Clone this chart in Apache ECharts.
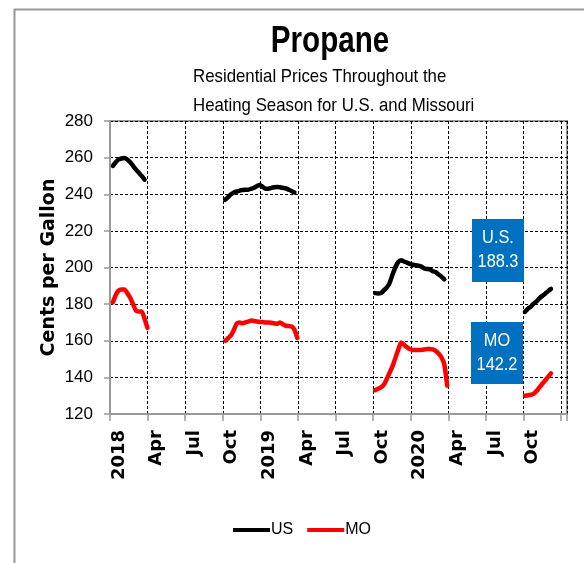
<!DOCTYPE html>
<html>
<head>
<meta charset="UTF-8">
<title>Propane</title>
<script src="https://cdn.jsdelivr.net/npm/echarts@6.0.0/dist/echarts.min.js"></script>
<style>
  html, body { margin: 0; padding: 0; background: #fff; }
  #chart { width: 584px; height: 563px; }
</style>
</head>
<body>
<div id="chart"></div>
<script>
// weekly survey dates, one list per heating season
const weeks2018 = ['2018-01-08', '2018-01-15', '2018-01-22', '2018-01-29', '2018-02-05', '2018-02-12', '2018-02-19',
    '2018-02-26', '2018-03-05', '2018-03-12', '2018-03-19', '2018-03-26', '2018-04-02'];
const weeks2019 = ['2018-10-08', '2018-10-15', '2018-10-22', '2018-10-29', '2018-11-05', '2018-11-12', '2018-11-19',
    '2018-11-26', '2018-12-03', '2018-12-10', '2018-12-17', '2018-12-24', '2018-12-31', '2019-01-07', '2019-01-14',
    '2019-01-21', '2019-01-28', '2019-02-04', '2019-02-11', '2019-02-18', '2019-02-25', '2019-03-04', '2019-03-11',
    '2019-03-18', '2019-03-25', '2019-04-01'];
const weeks2020 = ['2019-10-07', '2019-10-14', '2019-10-21', '2019-10-28', '2019-11-04', '2019-11-11', '2019-11-18',
    '2019-11-25', '2019-12-02', '2019-12-09', '2019-12-16', '2019-12-23', '2019-12-30', '2020-01-06', '2020-01-13',
    '2020-01-20', '2020-01-27', '2020-02-03', '2020-02-10', '2020-02-17', '2020-02-24', '2020-03-02', '2020-03-09',
    '2020-03-16', '2020-03-23', '2020-03-30'];
const weeks2021 = ['2020-10-05', '2020-10-12', '2020-10-19', '2020-10-26', '2020-11-02', '2020-11-09', '2020-11-16',
    '2020-11-23', '2020-11-30', '2020-12-07'];

// cents per gallon
const us2018 = [255.5, 257.5, 259, 259.5, 259.8, 259, 257.5, 255.5, 253.5, 251.8, 250, 248];
const mo2018 = [181, 185, 187.5, 188, 188, 186, 183.5, 180, 176.5, 176, 176, 172, 167];
const us2019 = [237, 238.5, 240, 241, 241.5, 242, 242.3, 242.5, 242.5, 243, 243.5, 244.5, 245, 244, 243, 243,
    243.5, 243.8, 244, 243.8, 243.5, 243.2, 242.5, 241.8, 241];
const mo2019 = [160, 161.5, 163, 166, 169.5, 170, 169.5, 170, 170.5, 171, 170.8, 170.5, 170.3, 170.2, 170, 170,
    169.8, 169.5, 169.2, 170, 169, 168.2, 168, 167.8, 166, 161.5];
const us2020 = [186, 185.8, 186, 187.5, 189, 191.5, 196, 200, 203, 204, 203.3, 202.7, 202, 201.5, 201.3, 201,
    200.5, 199.5, 199.2, 199, 198, 197.5, 196.2, 195, 193.5];
const mo2020 = [133, 133.8, 134.5, 136, 139, 142.5, 146, 150.5, 155, 159, 157.8, 156.5, 155.5, 155, 155, 155,
    155, 155.2, 155.5, 155.5, 155.3, 154.5, 153, 151, 147, 135.5];
const us2021 = [175.8, 177.5, 178.6, 180.3, 181.5, 183.2, 184.5, 185.7, 187.1, 188.3];
const mo2021 = [130, 130.2, 130.5, 131, 132.5, 134.5, 136.5, 138.3, 140.3, 142.2];

const xTickLabels = ['2018', 'Apr', 'Jul', 'Oct', '2019', 'Apr', 'Jul', 'Oct', '2020', 'Apr', 'Jul', 'Oct', ''];

const DAY0 = Date.parse('2018-01-01');
const QUARTER = 1096 / 12;
const dayNum = s => (Date.parse(s) - DAY0) / 86400000;

// glue the seasons into one series, with a break between them
function buildSeries(weekLists, valueLists) {
    const out = [];
    weekLists.forEach((weeks, k) => {
        if (k > 0) out.push([dayNum(weeks[0]) - 3, '-']);
        valueLists[k].forEach((v, i) => out.push([dayNum(weeks[i]), v]));
    });
    return out;
}
const allWeeks = [weeks2018, weeks2019, weeks2020, weeks2021];
const usData = buildSeries(allWeeks, [us2018, us2019, us2020, us2021]);
const moData = buildSeries(allWeeks, [mo2018, mo2019, mo2020, mo2021]);
const usLast = us2021[us2021.length - 1];
const moLast = mo2021[mo2021.length - 1];

const sans = "'Liberation Sans', sans-serif";
const gridLine = { color: '#000', width: 1, type: [3, 2] };

const chart = echarts.init(document.getElementById('chart'));
chart.setOption({
    animation: false,
    grid: { left: 110, right: 17, top: 121, bottom: 149, show: true, borderColor: '#999', borderWidth: 2 },
    xAxis: {
        type: 'value', min: 0, max: 1110, interval: QUARTER,
        axisLine: { show: true, lineStyle: { color: '#999', width: 2 } },
        axisTick: { show: true, length: 7, lineStyle: { color: '#999', width: 1.5 } },
        axisLabel: {
            rotate: 90, margin: 16, color: '#000', fontSize: 18, fontWeight: 'bold',
            fontFamily: 'DejaVu Sans', verticalAlign: 'top',
            formatter: v => xTickLabels[Math.round(v / QUARTER)] || ''
        },
        splitLine: { show: true, lineStyle: gridLine }
    },
    yAxis: {
        type: 'value', min: 120, max: 280, interval: 20,
        name: 'Cents per Gallon', nameLocation: 'middle', nameGap: 51, nameMoveOverlap: false,
        nameTextStyle: { fontSize: 19, fontWeight: 'bold', fontFamily: 'DejaVu Sans', color: '#000' },
        axisLine: { show: true, lineStyle: { color: '#999', width: 2 } },
        axisTick: { show: true, length: 6, lineStyle: { color: '#999', width: 1.5 } },
        axisLabel: { margin: 17, color: '#000', fontSize: 17, fontFamily: sans },
        splitLine: { show: true, lineStyle: gridLine }
    },
    legend: {
        left: 228, top: 517, icon: 'rect', itemWidth: 37, itemHeight: 4, itemGap: 14,
        textStyle: { fontSize: 16, fontFamily: sans, color: '#000', padding: [0, 0, 0, -4] },
        data: ['US', 'MO']
    },
    series: [
        {
            name: 'US', type: 'line', data: usData, showSymbol: false, smooth: 0.2,
            itemStyle: { color: '#000' },
            lineStyle: { color: '#000', width: 4.5, cap: 'round', join: 'round' }
        },
        {
            name: 'MO', type: 'line', data: moData, showSymbol: false, smooth: 0.2,
            itemStyle: { color: '#ff0000' },
            lineStyle: { color: '#ff0000', width: 4.5, cap: 'round', join: 'round' }
        }
    ],
    graphic: [
        { type: 'rect', left: 12, top: 7, shape: { width: 620, height: 620 }, silent: true,
          style: { fill: 'none', stroke: '#999', lineWidth: 2 }, z: -1 },
        { type: 'text', x: 330, y: 42, scaleX: 0.8, style: { text: 'Propane', textAlign: 'center',
          textVerticalAlign: 'middle', font: "bold 37px 'Liberation Sans', sans-serif", fill: '#000' } },
        { type: 'text', x: 193, y: 77, scaleX: 0.885, style: { text: 'Residential Prices Throughout the',
          textVerticalAlign: 'middle', font: "19px 'Liberation Sans', sans-serif", fill: '#000' } },
        { type: 'text', x: 193, y: 106, scaleX: 0.885, style: { text: 'Heating Season for U.S. and Missouri',
          textVerticalAlign: 'middle', font: "19px 'Liberation Sans', sans-serif", fill: '#000' } },
        { type: 'rect', x: 472, y: 219, shape: { width: 52, height: 63 }, style: { fill: '#0070c0' }, z: 10 },
        { type: 'text', x: 498, y: 250, scaleX: 0.86, z: 11, style: { text: 'U.S.\n' + usLast.toFixed(1),
          textAlign: 'center', textVerticalAlign: 'middle', lineHeight: 24, fill: '#fff',
          font: "19px 'Liberation Sans', sans-serif" } },
        { type: 'rect', x: 471, y: 322, shape: { width: 52, height: 62 }, style: { fill: '#0070c0' }, z: 10 },
        { type: 'text', x: 497, y: 353, scaleX: 0.86, z: 11, style: { text: 'MO\n' + moLast.toFixed(1),
          textAlign: 'center', textVerticalAlign: 'middle', lineHeight: 24, fill: '#fff',
          font: "19px 'Liberation Sans', sans-serif" } }
    ]
});
</script>
</body>
</html>
